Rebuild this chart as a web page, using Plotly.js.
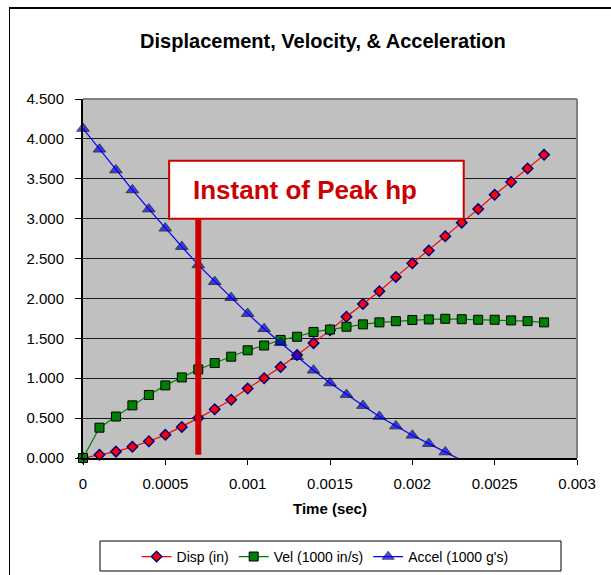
<!DOCTYPE html>
<html>
<head>
<meta charset="utf-8">
<script src="https://cdn.plot.ly/plotly-3.0.1.min.js"></script>
<style>
  html, body { margin: 0; padding: 0; background: #ffffff; overflow: hidden; }
  #wrap { position: relative; width: 611px; height: 575px; }
  #chart { position: absolute; left: 0; top: 0; width: 611px; height: 575px; }
  #frame { position: absolute; left: 9px; top: 7px; width: 700px; height: 700px;
           border-left: 1px solid #000; border-top: 2px solid #000; pointer-events: none; }
</style>
</head>
<body>
<div id="wrap">
  <div id="chart"></div>
  <div id="frame"></div>
</div>
<script>
// ---- data ----
const timeSec = [0, 0.0001, 0.0002, 0.0003, 0.0004, 0.0005, 0.0006, 0.0007, 0.0008, 0.0009,
                 0.0010, 0.0011, 0.0012, 0.0013, 0.0014, 0.0015, 0.0016, 0.0017, 0.0018, 0.0019,
                 0.0020, 0.0021, 0.0022, 0.0023, 0.0024, 0.0025, 0.0026, 0.0027, 0.0028];
const dispIn = [0, 0.04, 0.08, 0.14, 0.21, 0.29, 0.39, 0.50, 0.61, 0.73,
                0.87, 1.00, 1.14, 1.29, 1.44, 1.60, 1.77, 1.93, 2.09, 2.27,
                2.44, 2.60, 2.78, 2.95, 3.12, 3.30, 3.46, 3.63, 3.80];
const velK = [0, 0.38, 0.52, 0.66, 0.79, 0.91, 1.01, 1.11, 1.19, 1.27,
              1.35, 1.41, 1.48, 1.52, 1.58, 1.61, 1.645, 1.675, 1.70, 1.715,
              1.73, 1.737, 1.745, 1.74, 1.733, 1.733, 1.725, 1.716, 1.70];
const accelTime = [0, 0.0001, 0.0002, 0.0003, 0.0004, 0.0005, 0.0006, 0.0007, 0.0008, 0.0009,
                   0.0010, 0.0011, 0.0012, 0.0013, 0.0014, 0.0015, 0.0016, 0.0017, 0.0018, 0.0019,
                   0.0020, 0.0021, 0.0022, 0.0023];
const accelK = [4.13, 3.87, 3.61, 3.36, 3.12, 2.88, 2.65, 2.42, 2.21, 2.01,
                1.81, 1.62, 1.445, 1.27, 1.10, 0.94, 0.795, 0.657, 0.52, 0.40,
                0.284, 0.18, 0.075, -0.03];
const seriesNames = ["Disp (in)", "Vel (1000 in/s)", "Accel (1000 g's)"];
const peakTime = 0.0007;
const peakLabel = "Instant of Peak hp";
const yTickVals = [0, 0.5, 1, 1.5, 2, 2.5, 3, 3.5, 4, 4.5];
const yTickText = ["0.000", "0.500", "1.000", "1.500", "2.000", "2.500", "3.000", "3.500", "4.000", "4.500"];
const xTickVals = [0, 0.0005, 0.001, 0.0015, 0.002, 0.0025, 0.003];
const xTickText = ["0", "0.0005", "0.001", "0.0015", "0.002", "0.0025", "0.003"];

const FONT = "Liberation Sans, Arial, Helvetica, sans-serif";
const RED = "#CC0000";

const accelSizes = accelK.map(v => (v < 0 ? 0 : 11));

const traces = [
  {
    x: timeSec, y: dispIn, name: seriesNames[0], type: "scatter", mode: "lines+markers",
    line: { color: "#FF0000", width: 1.2 },
    marker: { symbol: "diamond", size: 8, color: "#FF0000", line: { color: "#000080", width: 1.5 } },
    cliponaxis: false, hoverinfo: "skip"
  },
  {
    x: timeSec, y: velK, name: seriesNames[1], type: "scatter", mode: "lines+markers",
    line: { color: "#008000", width: 1.2 },
    marker: { symbol: "square", size: 9, color: "#008000", line: { color: "#000000", width: 1 } },
    cliponaxis: false, hoverinfo: "skip"
  },
  {
    x: accelTime, y: accelK, name: seriesNames[2], type: "scatter", mode: "lines+markers",
    line: { color: "#0000FF", width: 1.2 },
    marker: { symbol: "triangle-up", size: accelSizes, color: "#0000FF", line: { color: "#000000", width: 1 } },
    cliponaxis: false, hoverinfo: "skip"
  }
];

const layout = {
  width: 611, height: 575,
  margin: { l: 83, r: 34, t: 99, b: 117, pad: 0, autoexpand: false },
  paper_bgcolor: "#FFFFFF",
  plot_bgcolor: "#C0C0C0",
  font: { family: FONT, size: 15, color: "#000000" },
  showlegend: true,
  title: {
    text: "<b>Displacement, Velocity, &amp; Acceleration</b>",
    font: { family: FONT, size: 20, color: "#000000" },
    xref: "container", x: 0.5286, xanchor: "center",
    yref: "container", y: 0.9287, yanchor: "middle"
  },
  xaxis: {
    range: [0, 0.003], tickvals: xTickVals, ticktext: xTickText,
    showgrid: false, zeroline: false, showline: true, linecolor: "#000000", linewidth: 2,
    ticks: "outside", ticklen: 5, tickcolor: "#000000", tickwidth: 1,
    tickfont: { family: FONT, size: 15 }, ticklabelstandoff: 6,
    title: { text: "<b>Time (sec)</b>", font: { family: FONT, size: 15 }, standoff: 12 },
    automargin: false, fixedrange: true
  },
  yaxis: {
    range: [0, 4.5], tickvals: yTickVals, ticktext: yTickText,
    showgrid: true, gridcolor: "#1a1a1a", gridwidth: 1,
    zeroline: false, showline: true, linecolor: "#000000", linewidth: 2,
    ticks: "outside", ticklen: 6, tickcolor: "#000000", tickwidth: 1,
    tickfont: { family: FONT, size: 15 }, ticklabelstandoff: 8,
    automargin: false, fixedrange: true
  },
  legend: {
    orientation: "h", x: 0.49, xanchor: "center", y: -0.231, yanchor: "top",
    bgcolor: "rgba(0,0,0,0)", borderwidth: 0,
    font: { family: FONT, size: 14 }, traceorder: "normal"
  },
  shapes: [
    { type: "line", xref: "paper", yref: "paper", x0: 0, x1: 1, y0: 1, y1: 1,
      line: { color: "#808080", width: 2 } },
    { type: "line", xref: "paper", yref: "paper", x0: 1, x1: 1, y0: 0, y1: 1,
      line: { color: "#808080", width: 2 } },
    { type: "line", xref: "x", yref: "y", x0: peakTime, x1: peakTime, y0: 0.04, y1: 3.0,
      line: { color: RED, width: 6 } },
    { type: "rect", xref: "x", yref: "y", x0: 0.000523, x1: 0.002312, y0: 3.0, y1: 3.726,
      fillcolor: "#FFFFFF", line: { color: RED, width: 2 } },
    // legend frame
    { type: "rect", xref: "paper", yref: "paper", x0: 0.0344, x1: 0.9676, y0: -0.3148, y1: -0.2312,
      fillcolor: "#FFFFFF", line: { color: "#000000", width: 1 } }
  ],
  annotations: [
    { xref: "x", yref: "y", x: 0.00135, y: 3.36, text: "<b>" + peakLabel + "</b>",
      showarrow: false, font: { family: FONT, size: 26, color: RED } }
  ]
};

Plotly.newPlot("chart", traces, layout, { displayModeBar: false, staticPlot: true });
</script>
</body>
</html>
